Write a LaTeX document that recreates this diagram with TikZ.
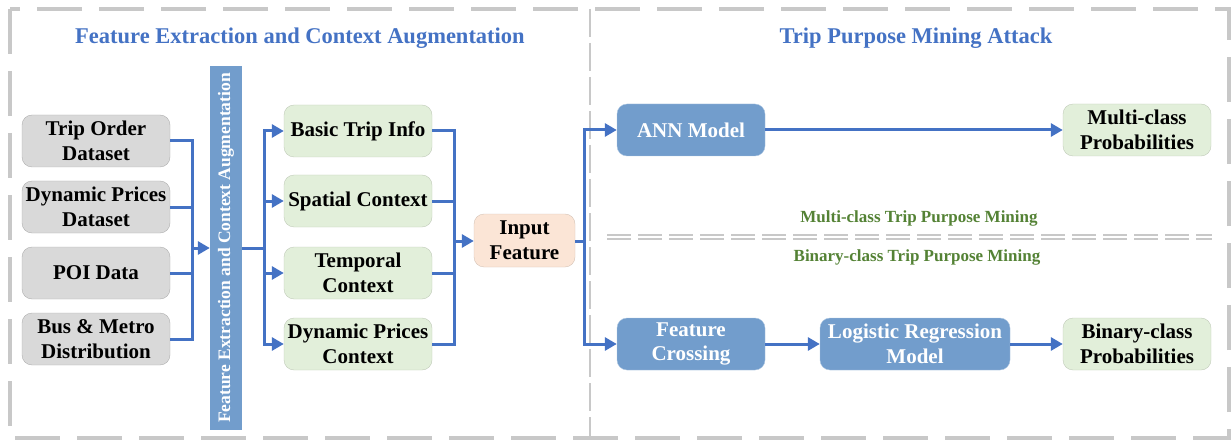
\documentclass[tikz,border=0pt]{standalone}
\usepackage{fontspec}
\setmainfont{Liberation Serif}
\usetikzlibrary{arrows.meta}

\definecolor{arrowblue}{RGB}{68,114,196}
\definecolor{boxblue}{RGB}{114,157,204}
\definecolor{boxgray}{RGB}{217,217,217}
\definecolor{boxgreen}{RGB}{226,239,218}
\definecolor{boxpeach}{RGB}{251,229,214}
\definecolor{labelgreen}{RGB}{84,130,53}
\definecolor{framegray}{RGB}{200,200,200}

\tikzset{
  box/.style={rounded corners=10pt, minimum width=148pt, minimum height=52pt,
    align=center, inner sep=2pt, font=\fontsize{21}{24.5}\selectfont\bfseries},
  graybox/.style={box, fill=boxgray, draw=boxgray!80!black},
  greenbox/.style={box, fill=boxgreen, draw=boxgreen!85!black},
  peachbox/.style={box, fill=boxpeach, draw=boxpeach!85!black},
  bluebox/.style={box, fill=boxblue, draw=boxblue!60!white, text=white},
  link/.style={draw=arrowblue, line width=3pt},
  arr/.style={link, -{Triangle[length=12pt, width=13pt]}},
  title/.style={text=arrowblue, font=\fontsize{22.5}{26}\selectfont\bfseries},
  sublabel/.style={text=labelgreen, font=\fontsize{17}{20}\selectfont\bfseries},
}

\begin{document}
\begin{tikzpicture}[x=1pt, y=-1pt]
\useasboundingbox (0,0) rectangle (1232,441);

% frames
\draw[framegray, line width=4.5pt, dash pattern=on 45pt off 17pt]
  (10,9) rectangle (1229,438);
\draw[framegray, line width=1.5pt, dash pattern=on 28pt off 6pt] (590,9) -- (590,438);
\draw[framegray, line width=1.6pt, dash pattern=on 24pt off 7pt] (607,235) -- (1212,235);
\draw[framegray, line width=1.6pt, dash pattern=on 24pt off 7pt] (607,239) -- (1212,239);

\node[title] (lefttitle) at (300,38) {Feature Extraction and Context Augmentation};
\node[title] (righttitle) at (916,38) {Trip Purpose Mining Attack};
\node[sublabel] (multilabel) at (919,218) {Multi-class Trip Purpose Mining};
\node[sublabel] (binlabel) at (917,257) {Binary-class Trip Purpose Mining};

% data sources
\foreach \name/\y/\txt in {trip/141/Trip Order\\Dataset, price/207/Dynamic Prices\\Dataset,
    poi/273/POI Data, bus/339/Bus \& Metro\\Distribution}
  \node[graybox] (\name) at (96,\y) {\txt};

% extraction bar
\node[fill=boxblue, minimum width=32pt, minimum height=364pt, inner sep=0pt] (bar) at (226,248) {};
\node[rotate=90, text=white, font=\fontsize{17.5}{20}\selectfont\bfseries] (bartext) at (bar.center)
  {Feature Extraction and Context Augmentation};

% features
\foreach \name/\y/\txt in {basic/131/Basic Trip Info, spatial/201/Spatial Context,
    temporal/273/Temporal\\Context, dynamic/344/Dynamic Prices\\Context}
  \node[greenbox] (\name) at (358,\y) {\txt};

\node[peachbox, minimum width=101pt, minimum height=53pt] (input) at (524.5,240.5) {Input\\Feature};

% models
\node[bluebox] (ann) at (691,130) {ANN Model};
\node[greenbox] (multi) at (1137,130) {Multi-class\\Probabilities};
\node[bluebox] (cross) at (691,344) {Feature\\Crossing};
\node[bluebox, minimum width=190pt] (logit) at (915,344) {Logistic Regression\\Model};
\node[greenbox] (binary) at (1137,344) {Binary-class\\Probabilities};

% junctions
\coordinate (j1) at (192,248);
\coordinate (j2) at (264,248);
\coordinate (j3) at (454,241);
\coordinate (j4) at (584,241);

\foreach \name in {trip,price,poi,bus}
  \draw[link] (\name.east) -| (j1);
\draw[arr] (j1) -- (bar.west |- j1);
\draw[link] (bar.east |- j2) -- (j2);
\foreach \name in {basic,spatial,temporal,dynamic}
{
  \draw[arr] (j2) |- (\name.west);
  \draw[link] (\name.east) -| (j3);
}
\draw[arr] (j3) -- (input.west |- j3);
\draw[link] (input.east |- j4) -- (j4);
\draw[arr] (j4) |- (ann.west);
\draw[arr] (j4) |- (cross.west);
\draw[arr] (ann) -- (multi);
\draw[arr] (cross) -- (logit);
\draw[arr] (logit) -- (binary);
\end{tikzpicture}
\end{document}
